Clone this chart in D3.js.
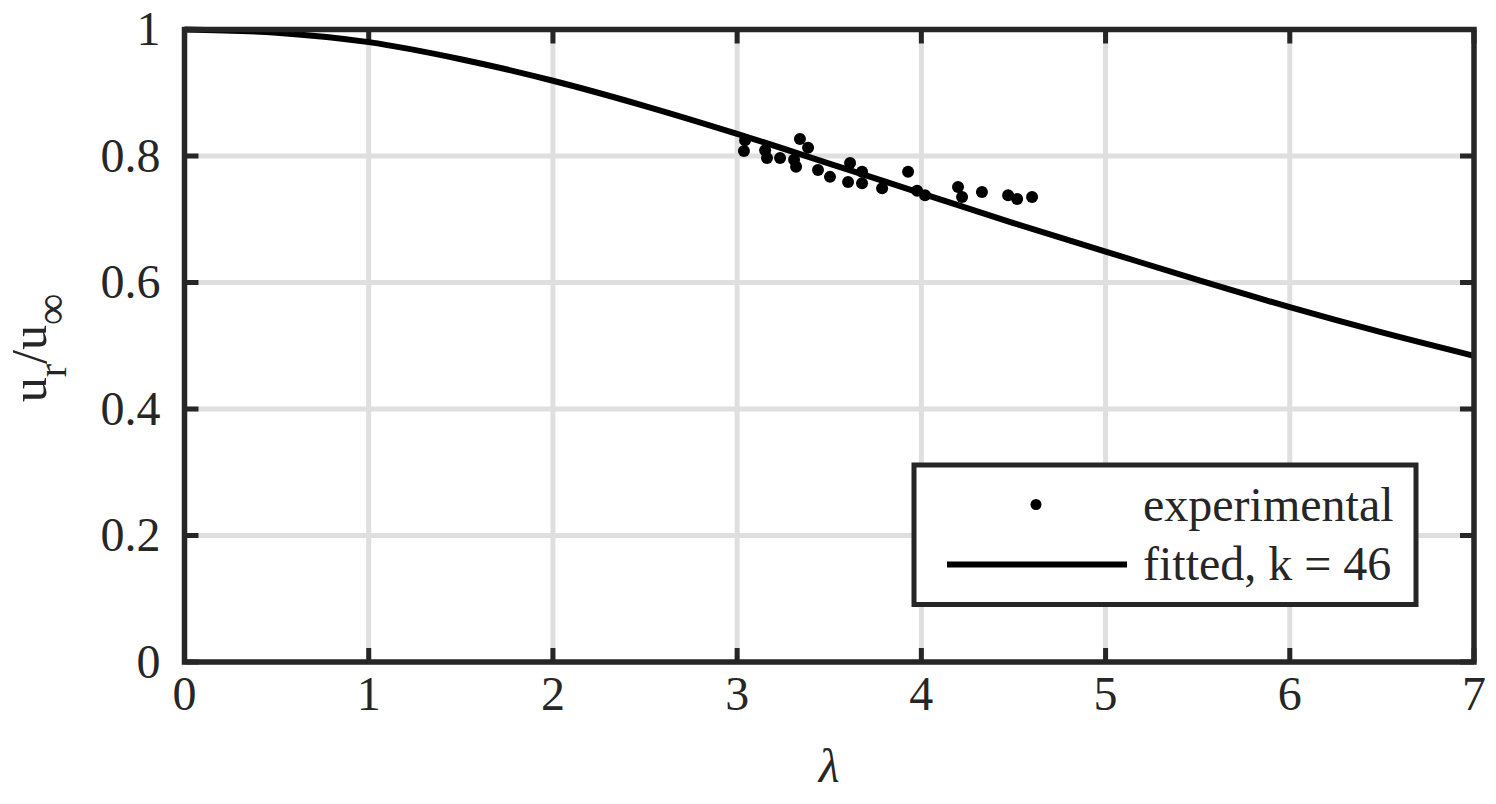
<!DOCTYPE html>
<html><head><meta charset="utf-8">
<script src="https://cdn.jsdelivr.net/npm/d3@7"></script>
<style>
html,body{margin:0;padding:0;background:#fff;}
text{font-family:"Liberation Serif","Times New Roman",serif;fill:#262626;}
</style></head>
<body><svg id="c" width="1496" height="804"></svg>
<script>
// ---- data ----
const xTicks = [0,1,2,3,4,5,6,7];
const yTicks = [0,0.2,0.4,0.6,0.8,1];
const yTickLabels = ["0","0.2","0.4","0.6","0.8","1"];
const fitLambda = [0,0.5,1,1.5,2,2.5,3,3.5,4,4.5,5,5.5,6,6.5,7];
const fitU      = [1,0.995,0.980,0.953,0.919,0.879,0.835,0.788,0.741,0.694,0.649,0.604,0.561,0.521,0.484];
const expLambda = [3.043,3.037,3.152,3.162,3.233,3.309,3.320,3.341,3.385,3.439,3.504,3.602,3.613,3.678,3.678,3.787,3.928,3.977,4.020,4.199,4.221,4.329,4.471,4.520,4.601];
const expU      = [0.825,0.808,0.809,0.797,0.797,0.794,0.783,0.827,0.813,0.778,0.767,0.759,0.789,0.775,0.757,0.749,0.775,0.745,0.738,0.751,0.735,0.743,0.738,0.732,0.735];
const legendLabels = ["experimental","fitted, k = 46"];

const svg = d3.select("#c");
const L=184.5, R=1474, T=29.5, B=662;
const x = d3.scaleLinear().domain([0,7]).range([L,R]);
const y = d3.scaleLinear().domain([0,1]).range([B,T]);
const frame="#262626", grid="#dfdfdf", fs=48;

// grid
svg.append("g").selectAll("line").data(xTicks.slice(1,-1)).join("line")
  .attr("x1",d=>x(d)).attr("x2",d=>x(d)).attr("y1",T).attr("y2",B)
  .attr("stroke",grid).attr("stroke-width",5);
svg.append("g").selectAll("line").data(yTicks.slice(1,-1)).join("line")
  .attr("y1",d=>y(d)).attr("y2",d=>y(d)).attr("x1",L).attr("x2",R)
  .attr("stroke",grid).attr("stroke-width",5);

// ticks (inside)
const tl=14;
const tk = svg.append("g").attr("stroke",frame).attr("stroke-width",5);
xTicks.forEach(d=>{
  tk.append("line").attr("x1",x(d)).attr("x2",x(d)).attr("y1",B).attr("y2",B-tl);
  tk.append("line").attr("x1",x(d)).attr("x2",x(d)).attr("y1",T).attr("y2",T+tl);
});
yTicks.forEach(d=>{
  tk.append("line").attr("y1",y(d)).attr("y2",y(d)).attr("x1",L).attr("x2",L+tl);
  tk.append("line").attr("y1",y(d)).attr("y2",y(d)).attr("x1",R).attr("x2",R-tl);
});

// fitted curve
const line = d3.line().x((d,i)=>x(fitLambda[i])).y((d,i)=>y(fitU[i])).curve(d3.curveMonotoneX);
svg.append("path").datum(fitU).attr("d",line).attr("fill","none")
  .attr("stroke","#000").attr("stroke-width",6);

// experimental points
svg.append("g").selectAll("circle").data(expU).join("circle")
  .attr("cx",(d,i)=>x(expLambda[i])).attr("cy",d=>y(d)).attr("r",6).attr("fill","#000");

// frame
svg.append("rect").attr("x",L).attr("y",T).attr("width",R-L).attr("height",B-T)
  .attr("fill","none").attr("stroke",frame).attr("stroke-width",5.5);

// tick labels
svg.append("g").selectAll("text").data(xTicks).join("text")
  .attr("x",d=>x(d)).attr("y",B+48).attr("text-anchor","middle")
  .attr("font-size",fs).text(d=>d);
svg.append("g").selectAll("text").data(yTicks).join("text")
  .attr("x",L-24).attr("y",d=>y(d)).attr("dy","0.33em").attr("text-anchor","end")
  .attr("font-size",fs).text((d,i)=>yTickLabels[i]);

// axis labels
svg.append("text").attr("x",x(3.5)).attr("y",782).attr("text-anchor","middle")
  .attr("font-size",fs).attr("font-style","italic").text("λ");
const yl = svg.append("text").attr("transform","translate(46,"+(348)+") rotate(-90)")
  .attr("text-anchor","middle").attr("font-size",50);
yl.append("tspan").text("u");
yl.append("tspan").attr("font-size",40).attr("dy",20).text("r");
yl.append("tspan").attr("dy",-20).text("/u");
yl.append("tspan").attr("font-size",44).attr("dy",20).text("∞");

// legend
const lg = svg.append("g");
lg.append("rect").attr("x",914).attr("y",465).attr("width",502).attr("height",139.5)
  .attr("fill","#fff").attr("stroke",frame).attr("stroke-width",5);
lg.append("circle").attr("cx",1036).attr("cy",504.5).attr("r",5.5).attr("fill","#000");
lg.append("line").attr("x1",947).attr("x2",1127).attr("y1",564.5).attr("y2",564.5)
  .attr("stroke","#000").attr("stroke-width",6);
lg.selectAll("text").data(legendLabels).join("text")
  .attr("x",1143).attr("y",(d,i)=>521+i*59).attr("font-size",fs).text(d=>d);
</script></body></html>
